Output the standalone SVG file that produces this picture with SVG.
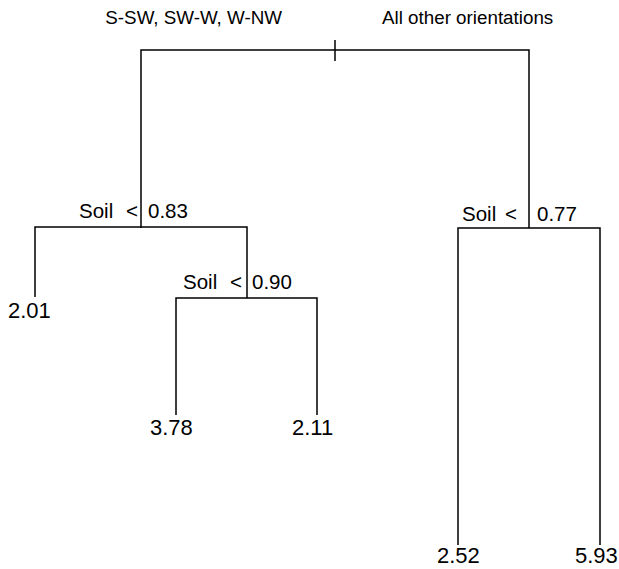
<svg xmlns="http://www.w3.org/2000/svg" width="619" height="569" viewBox="0 0 619 569">
<style>
.e{fill:none;stroke:#000;stroke-width:1.5}
.h{font-family:"Liberation Sans",Arial,sans-serif;font-size:18.8px;fill:#000}
.s{font-family:"Liberation Sans",Arial,sans-serif;font-size:20.5px;fill:#000}
.n{font-family:"Liberation Sans",Arial,sans-serif;font-size:22px;fill:#000}
</style>
<rect width="619" height="569" fill="#fff"/>
<g id="connectors">
<path class="e" d="M141,228 V50 H529 V228"/>
<path class="e" d="M335,40 V61"/>
<path class="e" d="M35,297 V227 H247 V298"/>
<path class="e" d="M176,415 V298 H317 V415"/>
<path class="e" d="M458,545 V228 H600 V545"/>
</g>
<g id="root">
<text class="h" x="282" y="24" text-anchor="end">S-SW, SW-W, W-NW</text>
<text class="h" x="382" y="24">All other orientations</text>
</g>
<g id="split1">
<text class="s" x="79" y="218">Soil</text><text class="s" x="126" y="218">&lt;</text><text class="s" x="148" y="218">0.83</text>
</g>
<g id="split2">
<text class="s" x="183" y="289">Soil</text><text class="s" x="230" y="289">&lt;</text><text class="s" x="252" y="289">0.90</text>
</g>
<g id="split3">
<text class="s" x="462" y="221">Soil</text><text class="s" x="505" y="221">&lt;</text><text class="s" x="537" y="221">0.77</text>
</g>
<g id="leaf201"><text class="n" x="8" y="318">2.01</text></g>
<g id="leaf378"><text class="n" x="150" y="435">3.78</text></g>
<g id="leaf211"><text class="n" x="292" y="435">2.11</text></g>
<g id="leaf252"><text class="n" x="437" y="563">2.52</text></g>
<g id="leaf593"><text class="n" x="575" y="563">5.93</text></g>
</svg>
